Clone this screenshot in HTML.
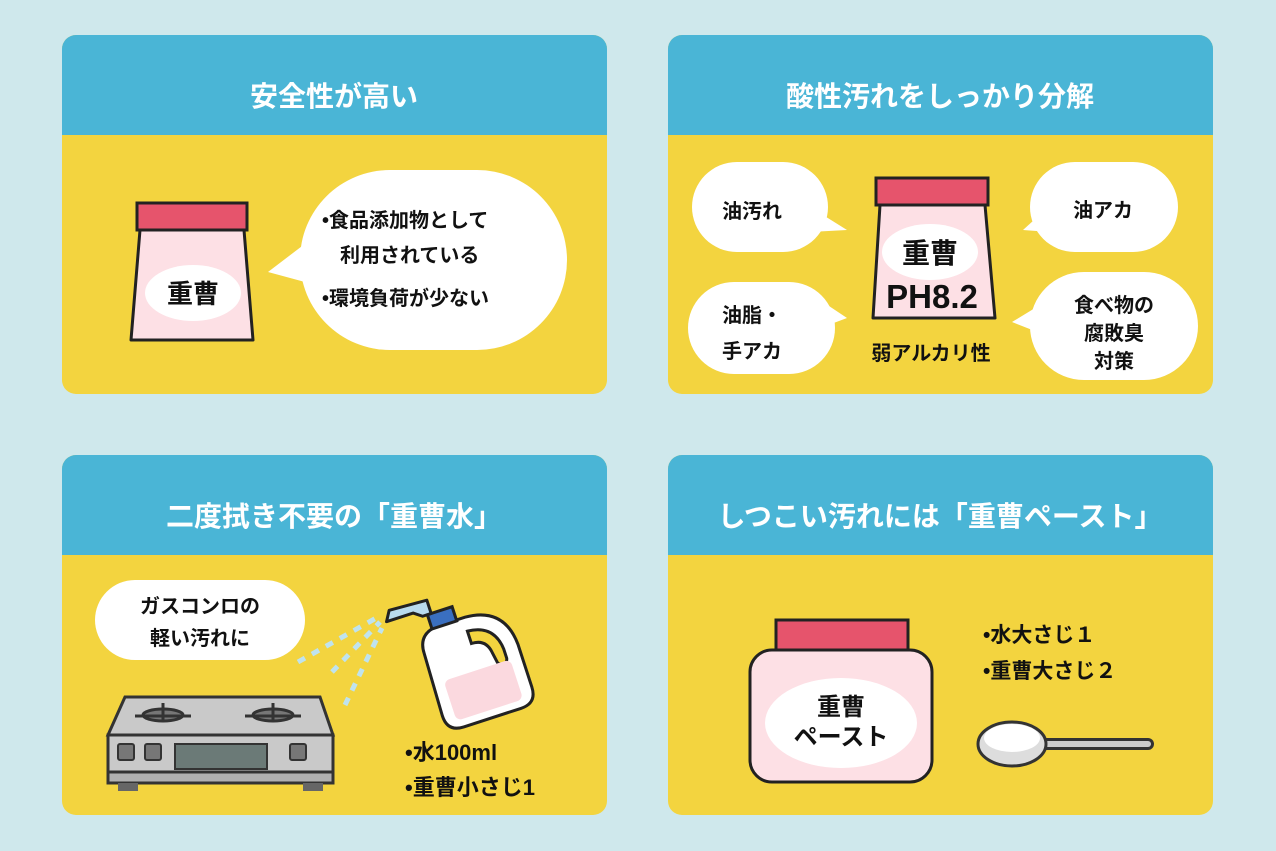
<!DOCTYPE html>
<html><head><meta charset="utf-8"><style>
html,body{margin:0;padding:0;background:#cfe8ec;}
svg{display:block}
text{font-family:"Liberation Sans","Noto Sans CJK JP",sans-serif;font-weight:bold;}
</style></head><body>
<svg width="1276" height="851" viewBox="0 0 1276 851" xmlns="http://www.w3.org/2000/svg">
<rect width="1276" height="851" fill="#cfe8ec"/>
<defs>
<clipPath id="c1"><rect x="62" y="35" width="545" height="359" rx="14"/></clipPath>
<clipPath id="c2"><rect x="668" y="35" width="545" height="359" rx="14"/></clipPath>
<clipPath id="c3"><rect x="62" y="455" width="545" height="360" rx="14"/></clipPath>
<clipPath id="c4"><rect x="668" y="455" width="545" height="360" rx="14"/></clipPath>
</defs>
<g clip-path="url(#c1)"><rect x="62" y="35" width="545" height="359" fill="#f3d43f"/><rect x="62" y="35" width="545" height="100" fill="#4ab5d6"/></g>
<g clip-path="url(#c2)"><rect x="668" y="35" width="545" height="359" fill="#f3d43f"/><rect x="668" y="35" width="545" height="100" fill="#4ab5d6"/></g>
<g clip-path="url(#c3)"><rect x="62" y="455" width="545" height="360" fill="#f3d43f"/><rect x="62" y="455" width="545" height="100" fill="#4ab5d6"/></g>
<g clip-path="url(#c4)"><rect x="668" y="455" width="545" height="360" fill="#f3d43f"/><rect x="668" y="455" width="545" height="100" fill="#4ab5d6"/></g>
<g fill="#fff" font-size="28" text-anchor="middle">
<text x="334" y="106">安全性が高い</text>
<text x="940" y="106">酸性汚れをしっかり分解</text>
<text x="334" y="526">二度拭き不要の「重曹水」</text>
<text x="940" y="526">しつこい汚れには「重曹ペースト」</text>
</g>
<!-- TL bag -->
<path d="M140 230 L244 230 L253 340 L131 340 Z" fill="#fde0e5" stroke="#222" stroke-width="3" stroke-linejoin="round"/>
<rect x="137" y="203" width="110" height="27" fill="#e6546c" stroke="#222" stroke-width="3"/>
<ellipse cx="193" cy="293" rx="48" ry="28" fill="#fff"/>
<text x="193" y="303" font-size="26" text-anchor="middle" fill="#111">重曹</text>
<path d="M310 240 L268 272 L316 285 Z" fill="#fff"/>
<rect x="300" y="170" width="267" height="180" rx="90" fill="#fff"/>
<g font-size="20" fill="#111">
<text x="322" y="227">•食品添加物として</text>
<text x="340" y="262">利用されている</text>
<text x="322" y="305">•環境負荷が少ない</text>
</g>
<!-- TR -->
<path d="M880 205 L985 205 L995 318 L873 318 Z" fill="#fde0e5" stroke="#222" stroke-width="3" stroke-linejoin="round"/>
<rect x="876" y="178" width="112" height="27" fill="#e6546c" stroke="#222" stroke-width="3"/>
<ellipse cx="930" cy="252" rx="48" ry="28" fill="#fff"/>
<text x="930" y="263" font-size="28" text-anchor="middle" fill="#111">重曹</text>
<text x="932" y="308" font-size="33" text-anchor="middle" fill="#111" font-family="Liberation Sans">PH8.2</text>
<text x="931" y="360" font-size="20" text-anchor="middle" fill="#111">弱アルカリ性</text>
<g fill="#fff">
<path d="M815 210 L847 230 L810 232Z"/><rect x="692" y="162" width="136" height="90" rx="45"/>
<path d="M1045 210 L1023 230 L1050 232Z"/><rect x="1030" y="162" width="148" height="90" rx="45"/>
<path d="M820 300 L847 318 L815 330Z"/><rect x="688" y="282" width="147" height="92" rx="46"/>
<path d="M1040 305 L1012 322 L1045 335Z"/><rect x="1030" y="272" width="168" height="108" rx="54"/>
</g>
<g font-size="20" fill="#111" text-anchor="middle">
<text x="752" y="218">油汚れ</text>
<text x="1103" y="217">油アカ</text>
<text x="752" y="322">油脂・</text>
<text x="752" y="358">手アカ</text>
<text x="1114" y="312">食べ物の</text>
<text x="1114" y="340">腐敗臭</text>
<text x="1114" y="368">対策</text>
</g>
<!-- BL -->
<rect x="95" y="580" width="210" height="80" rx="40" fill="#fff"/>
<g font-size="20" fill="#111" text-anchor="middle">
<text x="200" y="613">ガスコンロの</text><text x="200" y="645">軽い汚れに</text>
</g>
<g stroke="#bfe3ee" stroke-width="5" stroke-dasharray="8 8">
<line x1="298" y1="662" x2="378" y2="617"/>
<line x1="332" y1="672" x2="380" y2="622"/>
<line x1="345" y1="705" x2="382" y2="628"/>
</g>
<path d="M125 697 L320 697 L333 735 L108 735 Z" fill="#c9c9c9" stroke="#333" stroke-width="3"/>
<rect x="108" y="735" width="225" height="48" fill="#c9c9c9" stroke="#333" stroke-width="3"/>
<rect x="108" y="772" width="225" height="11" fill="#b0b0b0" stroke="#333" stroke-width="3"/>
<rect x="118" y="783" width="20" height="8" fill="#666"/><rect x="303" y="783" width="20" height="8" fill="#666"/>
<rect x="118" y="744" width="16" height="16" rx="2" fill="#777" stroke="#333" stroke-width="2"/>
<rect x="145" y="744" width="16" height="16" rx="2" fill="#777" stroke="#333" stroke-width="2"/>
<rect x="290" y="744" width="16" height="16" rx="2" fill="#777" stroke="#333" stroke-width="2"/>
<rect x="175" y="744" width="92" height="25" fill="#6b7a77" stroke="#333" stroke-width="2"/>
<g stroke="#333" stroke-width="3" fill="#777">
<ellipse cx="163" cy="715" rx="20" ry="6"/><ellipse cx="273" cy="715" rx="20" ry="6"/>
<line x1="135" y1="716" x2="191" y2="716"/><line x1="163" y1="703" x2="163" y2="720"/>
<line x1="245" y1="716" x2="301" y2="716"/><line x1="273" y1="703" x2="273" y2="720"/>
</g>
<!-- spray bottle (jug) -->
<g transform="rotate(-18 470 665)">
<path d="M430 640 Q430 620 450 618 L480 618 Q520 620 522 660 L522 705 Q522 722 505 722 L445 722 Q428 722 428 705 Z" fill="#fff" stroke="#222" stroke-width="3"/>
<path d="M478 632 Q505 634 507 660 L507 670 Q505 678 497 672 L495 660 Q493 645 478 645 Z" fill="#f3d43f" stroke="#222" stroke-width="3"/>
<rect x="440" y="672" width="70" height="42" rx="6" fill="#fbd9df"/>
<rect x="445" y="604" width="26" height="15" fill="#3a6fc0" stroke="#222" stroke-width="3"/>
<path d="M449 604 L449 590 L410 588 L404 598 L432 598 L440 604 Z" fill="#b9dbee" stroke="#222" stroke-width="3" stroke-linejoin="round"/>
</g>
<g font-size="22" fill="#111">
<text x="405" y="760">•水100ml</text><text x="405" y="795">•重曹小さじ1</text>
</g>
<!-- BR -->
<rect x="750" y="650" width="182" height="132" rx="22" fill="#fde0e5" stroke="#222" stroke-width="3"/>
<rect x="776" y="620" width="132" height="30" fill="#e6546c" stroke="#222" stroke-width="3"/>
<ellipse cx="841" cy="723" rx="76" ry="45" fill="#fff"/>
<g font-size="24" fill="#111" text-anchor="middle">
<text x="841" y="715">重曹</text><text x="841" y="745">ペースト</text>
</g>
<g font-size="21" fill="#111">
<text x="983" y="642">•水大さじ１</text><text x="983" y="678">•重曹大さじ２</text>
</g>
<path d="M1040 744 L1148 744" stroke="#333" stroke-width="12" stroke-linecap="round"/>
<path d="M1040 744 L1148 744" stroke="#ccc" stroke-width="6" stroke-linecap="round"/>
<ellipse cx="1012" cy="744" rx="34" ry="22" fill="#ddd" stroke="#333" stroke-width="3"/>
<ellipse cx="1012" cy="738" rx="28" ry="14" fill="#fff"/>
</svg>
</body></html>
